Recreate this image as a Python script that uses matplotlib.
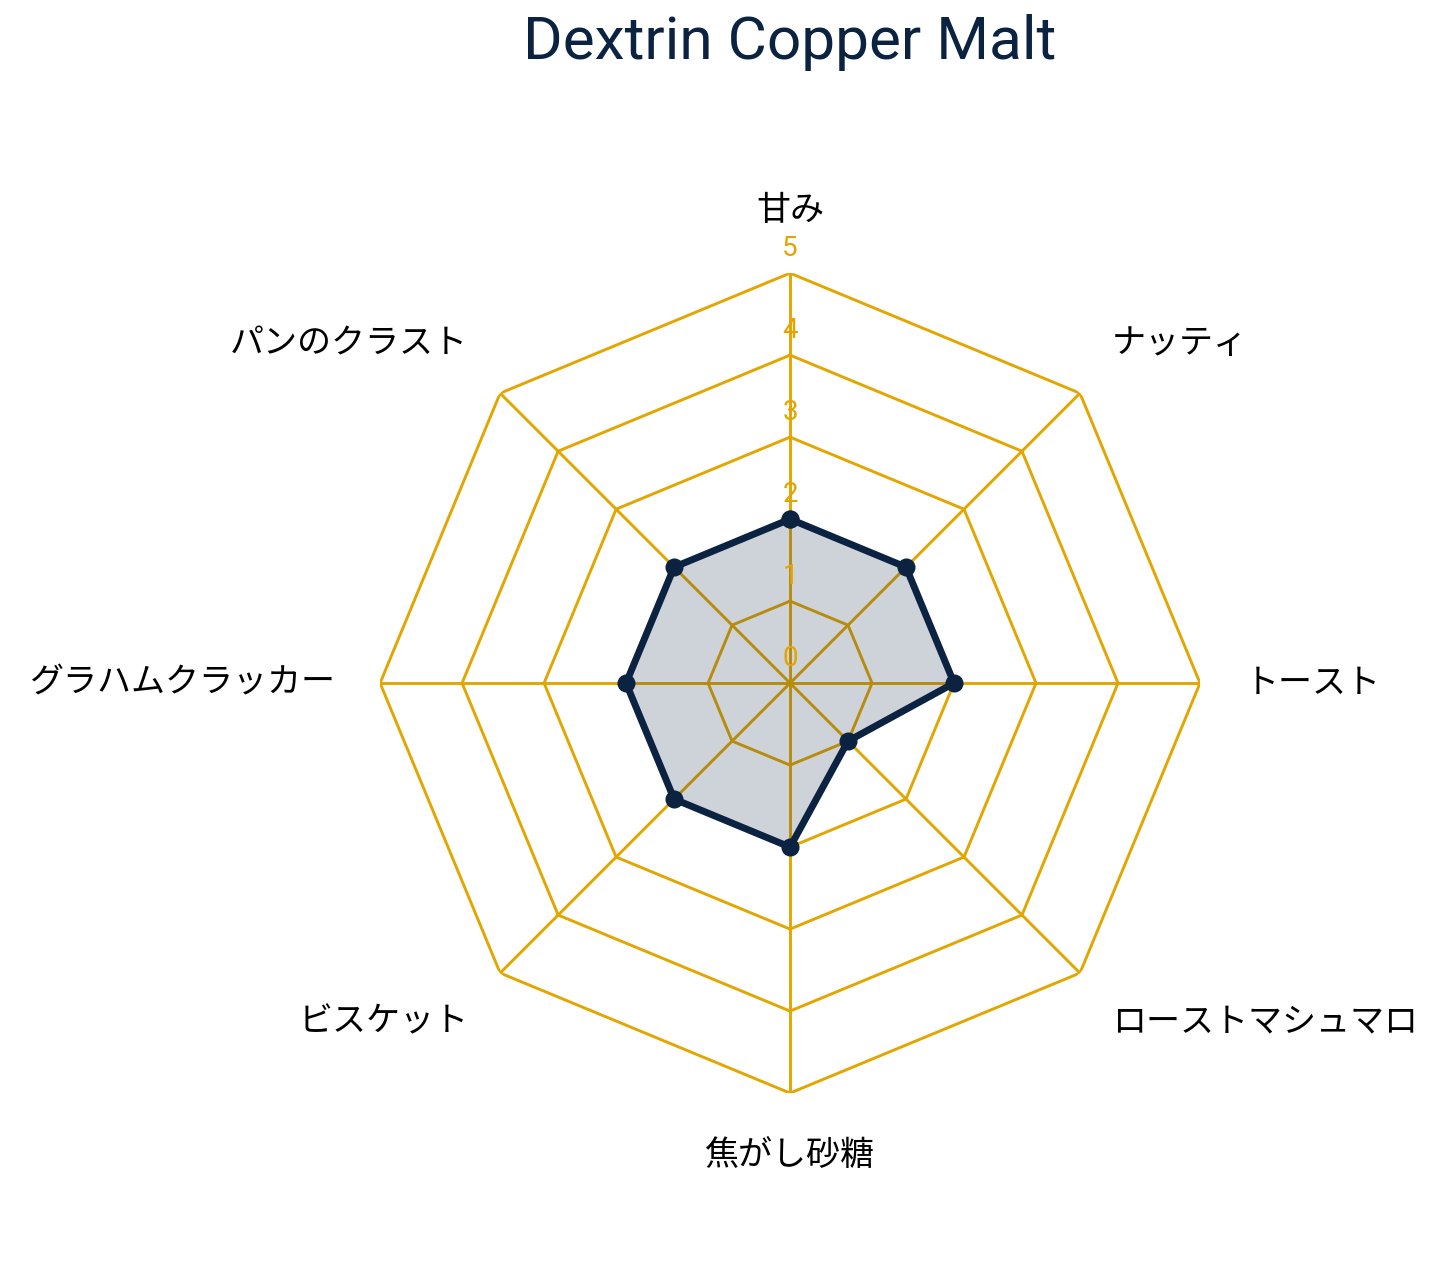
import numpy as np
import matplotlib
matplotlib.use("Agg")
import matplotlib.pyplot as plt

plt.rcParams['font.family'] = ['Noto Sans CJK JP', 'DejaVu Sans']

# data
title = "Dextrin Copper Malt"
categories = ["甘み", "ナッティ", "トースト", "ローストマシュマロ",
              "焦がし砂糖", "ビスケット", "グラハムクラッカー", "パンのクラスト"]
values = [2, 2, 2, 1, 2, 2, 2, 2]
levels = [0, 1, 2, 3, 4, 5]

GOLD = "#E3A600"
NAVY = "#0B2341"

n = len(categories)
theta = np.arange(n) * 2 * np.pi / n
theta_closed = np.append(theta, theta[0])

fig = plt.figure(figsize=(14.45, 12.74), dpi=100)
ax = fig.add_axes([0.263, 0.142, 0.5675, 0.6436], projection='polar')
ax.set_theta_zero_location('N')
ax.set_theta_direction(-1)
ax.set_ylim(0, 5)
ax.grid(False)
ax.spines['polar'].set_visible(False)
ax.set_xticks([])
ax.set_yticks([])
ax.patch.set_alpha(0)

# spokes
for t in theta:
    ax.plot([t, t], [0, levels[-1]], color=GOLD, lw=2.1, zorder=1)

# polygon rings
for lv in levels[1:]:
    ax.plot(theta_closed, [lv] * (n + 1), color=GOLD, lw=2.1, zorder=1)

# data
vals_closed = values + values[:1]
ax.fill(theta_closed, vals_closed, color=NAVY, alpha=0.2, lw=0, zorder=2)
ax.plot(theta_closed, vals_closed, color=NAVY, lw=5, zorder=3,
        marker='o', markersize=12, solid_joinstyle='round')

# radial tick labels
for lv in levels:
    ax.text(0, lv + 0.3, str(lv), color=GOLD, fontsize=20,
            ha='center', va='center', family=['Roboto', 'DejaVu Sans'], zorder=4)

# category labels
align = [('center', 'bottom'), ('left', 'bottom'), ('left', 'center'), ('left', 'top'),
         ('center', 'top'), ('right', 'top'), ('right', 'center'), ('right', 'bottom')]
for t, lab, (ha, va) in zip(theta, categories, align):
    ax.text(t, 5.55, lab, fontsize=24.5, ha=ha, va=va, color='black')

fig.text(0.5467, 0.967, title, fontsize=43.5, color=NAVY, ha='center', va='center',
         family=['Roboto', 'DejaVu Sans'])

fig.savefig("out.png", dpi=100, facecolor='white')
